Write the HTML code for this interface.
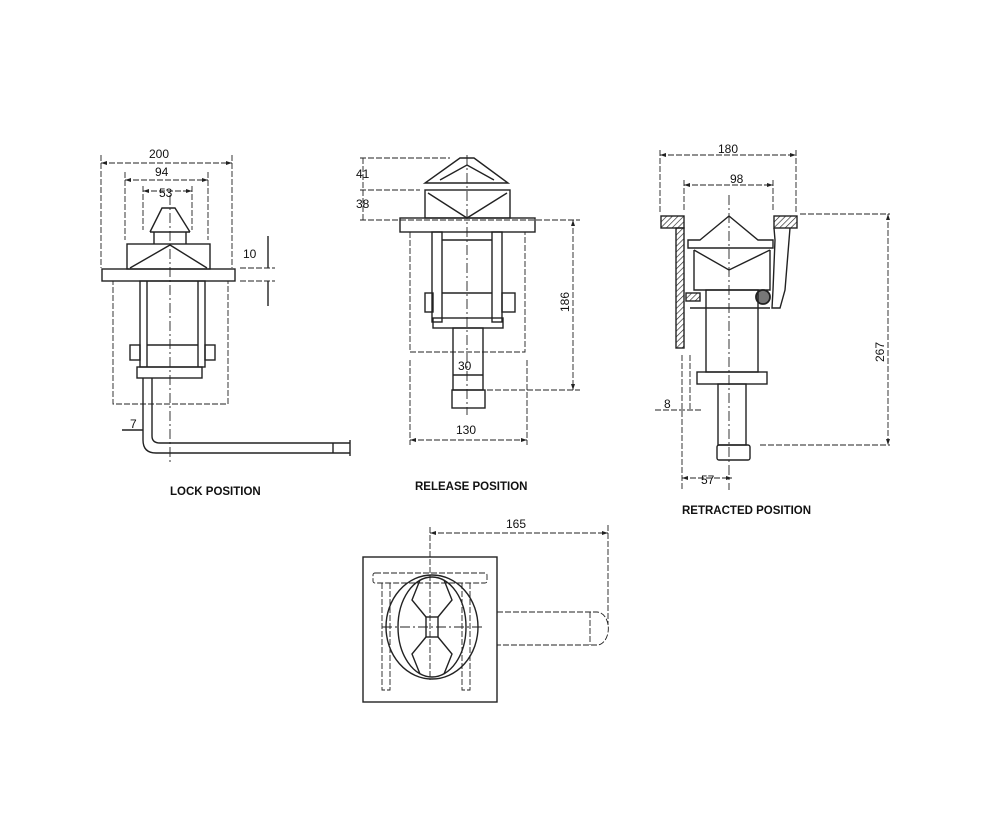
<!DOCTYPE html>
<html><head><meta charset="utf-8"><style>
html,body{margin:0;padding:0;background:#fff;}
svg{display:block;}
text{font-family:"Liberation Sans",sans-serif;font-size:12px;fill:#111;}
.b{font-weight:bold;font-size:11.5px;}
</style></head><body>
<svg width="991" height="834" viewBox="0 0 991 834" xmlns="http://www.w3.org/2000/svg">
<defs>
<pattern id="h" width="4" height="4" patternUnits="userSpaceOnUse" patternTransform="rotate(45)">
<line x1="0" y1="0" x2="0" y2="4" stroke="#222" stroke-width="1.3"/></pattern>
</defs>
<g fill="none" stroke="#222" stroke-width="1.4">
<!-- LOCK VIEW -->
<g stroke-dasharray="6,2" stroke-width="0.9">
<line x1="101" y1="163" x2="232" y2="163"/><line x1="125" y1="180" x2="208" y2="180"/><line x1="143" y1="191" x2="192" y2="191"/>
<line x1="101" y1="155" x2="101" y2="268"/><line x1="232" y1="155" x2="232" y2="268"/>
<line x1="125" y1="172" x2="125" y2="240"/><line x1="208" y1="172" x2="208" y2="240"/>
<line x1="143" y1="186" x2="143" y2="230"/><line x1="192" y1="186" x2="192" y2="230"/>
<line x1="240" y1="268" x2="275" y2="268"/><line x1="240" y1="281" x2="275" y2="281"/>
<line x1="170" y1="195" x2="170" y2="465" stroke-dasharray="10,3,2,3"/>
<rect x="113" y="281" width="115" height="123"/>
</g>
<line x1="268" y1="236" x2="268" y2="268"/><line x1="268" y1="281" x2="268" y2="306"/>
<path d="M150,232 L162,208 L175,208 L190,232 M150,232 L190,232 M154,232 L154,244 M186,232 L186,244"/>
<rect x="127" y="244" width="83" height="25"/>
<path d="M130,268 L170,245 L207,268"/>
<rect x="102" y="269" width="133" height="12"/>
<rect x="140" y="281" width="65" height="86"/>
<line x1="147" y1="281" x2="147" y2="367"/><line x1="198" y1="281" x2="198" y2="367"/>
<rect x="130" y="345" width="10" height="15"/><rect x="205" y="345" width="10" height="15"/>
<line x1="147" y1="345" x2="198" y2="345"/>
<rect x="137" y="367" width="65" height="11"/>
<path d="M143,378 L143,440 Q143,453 156,453 L350,453 M152,378 L152,436 Q152,443 160,443 L350,443 M333,443 L333,453 M350,440 L350,456"/>
<line x1="122" y1="430" x2="143" y2="430"/>
<!-- RELEASE VIEW -->
<g stroke-dasharray="6,2" stroke-width="0.9">
<line x1="360" y1="158" x2="450" y2="158"/><line x1="360" y1="190" x2="420" y2="190"/><line x1="360" y1="220" x2="580" y2="220"/>
<line x1="363" y1="158" x2="363" y2="220"/>
<line x1="573" y1="220" x2="573" y2="390"/>
<line x1="455" y1="390" x2="580" y2="390"/>
<line x1="410" y1="440" x2="527" y2="440"/>
<line x1="410" y1="360" x2="410" y2="445"/><line x1="527" y1="360" x2="527" y2="445"/>
<path d="M410,232 L410,352 L525,352 L525,232"/>
<line x1="467" y1="155" x2="467" y2="415" stroke-dasharray="10,3,2,3"/>
</g>
<path d="M460,158 L474,158 L508,183 L425,183 Z M440,180 L467,165 L494,180"/>
<rect x="425" y="190" width="85" height="28"/>
<path d="M428,193 L467,218 L507,193"/>
<rect x="400" y="218" width="135" height="14"/>
<rect x="432" y="232" width="10" height="90"/><rect x="492" y="232" width="10" height="90"/>
<line x1="442" y1="240" x2="492" y2="240"/><line x1="442" y1="293" x2="492" y2="293"/>
<rect x="425" y="293" width="8" height="19"/><rect x="502" y="293" width="13" height="19"/>
<rect x="433" y="318" width="70" height="10"/>
<rect x="453" y="328" width="30" height="62"/><line x1="453" y1="375" x2="483" y2="375"/>
<rect x="452" y="390" width="33" height="18"/>
<!-- RETRACTED VIEW -->
<g stroke-dasharray="6,2" stroke-width="0.9">
<line x1="660" y1="155" x2="796" y2="155"/><line x1="684" y1="185" x2="773" y2="185"/>
<line x1="660" y1="150" x2="660" y2="212"/><line x1="796" y1="150" x2="796" y2="212"/>
<line x1="684" y1="180" x2="684" y2="212"/><line x1="773" y1="180" x2="773" y2="212"/>
<line x1="800" y1="214" x2="890" y2="214"/><line x1="760" y1="445" x2="890" y2="445"/>
<line x1="888" y1="214" x2="888" y2="445"/>
<line x1="682" y1="355" x2="682" y2="490"/><line x1="690" y1="355" x2="690" y2="410"/>
<line x1="655" y1="410" x2="702" y2="410"/>
<line x1="682" y1="478" x2="732" y2="478"/>
<line x1="729" y1="195" x2="729" y2="490" stroke-dasharray="10,3,2,3"/>
</g>
<rect x="661" y="216" width="23" height="12" fill="url(#h)"/><rect x="774" y="216" width="23" height="12" fill="url(#h)"/>
<rect x="676" y="228" width="8" height="120" fill="url(#h)"/>
<path d="M700,240 L729,216 L758,240 L773,240 L773,248 L688,248 L688,240 Z M694,250 L694,290 L770,290 L770,250 M694,250 L729,270 L770,250"/>
<path d="M774,228 L775,240 L773,290 L772,308 L780,308 L785,290 L790,228"/>
<rect x="686" y="293" width="14" height="8" fill="url(#h)"/>
<circle cx="763" cy="297" r="7" fill="#777" stroke-width="1.8"/>
<line x1="690" y1="308" x2="770" y2="308"/>
<rect x="706" y="290" width="52" height="82"/>
<rect x="697" y="372" width="70" height="12"/>
<rect x="718" y="384" width="28" height="61"/>
<rect x="717" y="445" width="33" height="15" rx="2"/>
<!-- PLAN VIEW -->
<g stroke-dasharray="6,2" stroke-width="0.9">
<line x1="430" y1="533" x2="608" y2="533"/><line x1="608" y1="525" x2="608" y2="625"/>
<line x1="430" y1="527" x2="430" y2="680"/>
<rect x="373" y="573" width="114" height="10" rx="2"/>
<path d="M382,583 L382,690 L390,690 L390,583 M470,583 L470,690 L462,690 L462,583"/>
<path d="M497,612 L597,612 A11,16 0 0 1 597,645 L497,645 M590,612 L590,645"/>
<line x1="382" y1="627" x2="482" y2="627" stroke-dasharray="10,3,2,3"/>
</g>
<rect x="363" y="557" width="134" height="145"/>
<ellipse cx="432" cy="627" rx="46" ry="52"/>
<ellipse cx="432" cy="627" rx="34" ry="50"/>
<rect x="426" y="617" width="12" height="20"/>
<path d="M426,617 L412,600 L420,580 M438,617 L452,600 L444,580 M426,637 L412,654 L420,674 M438,637 L452,654 L444,674"/>
</g>
<g fill="#222">
<path d="M101,163 l6,-2 v4z M232,163 l-6,-2 v4z M125,180 l6,-2 v4z M208,180 l-6,-2 v4z M143,191 l6,-2 v4z M192,191 l-6,-2 v4z"/>
<path d="M573,220 l-2,6 h4z M573,390 l-2,-6 h4z M410,440 l6,-2 v4z M527,440 l-6,-2 v4z"/>
<path d="M660,155 l6,-2 v4z M796,155 l-6,-2 v4z M684,185 l6,-2 v4z M773,185 l-6,-2 v4z M888,214 l-2,6 h4z M888,445 l-2,-6 h4z M682,478 l6,-2 v4z M732,478 l-6,-2 v4z M430,533 l6,-2 v4z M608,533 l-6,-2 v4z"/>
</g>
<text x="149" y="158">200</text><text x="155" y="176">94</text><text x="159" y="197">53</text>
<text x="243" y="258">10</text><text x="130" y="428">7</text>
<text x="356" y="178">41</text><text x="356" y="208">38</text>
<text x="458" y="370">30</text><text x="456" y="434">130</text>
<text transform="translate(569,312) rotate(-90)">186</text>
<text x="718" y="153">180</text><text x="730" y="183">98</text>
<text transform="translate(884,362) rotate(-90)">267</text>
<text x="664" y="408">8</text><text x="701" y="484">57</text>
<text x="506" y="528">165</text>
<text class="b" x="170" y="495">LOCK POSITION</text>
<text class="b" x="415" y="490">RELEASE POSITION</text>
<text class="b" x="682" y="514">RETRACTED POSITION</text>
</svg>
</body></html>
